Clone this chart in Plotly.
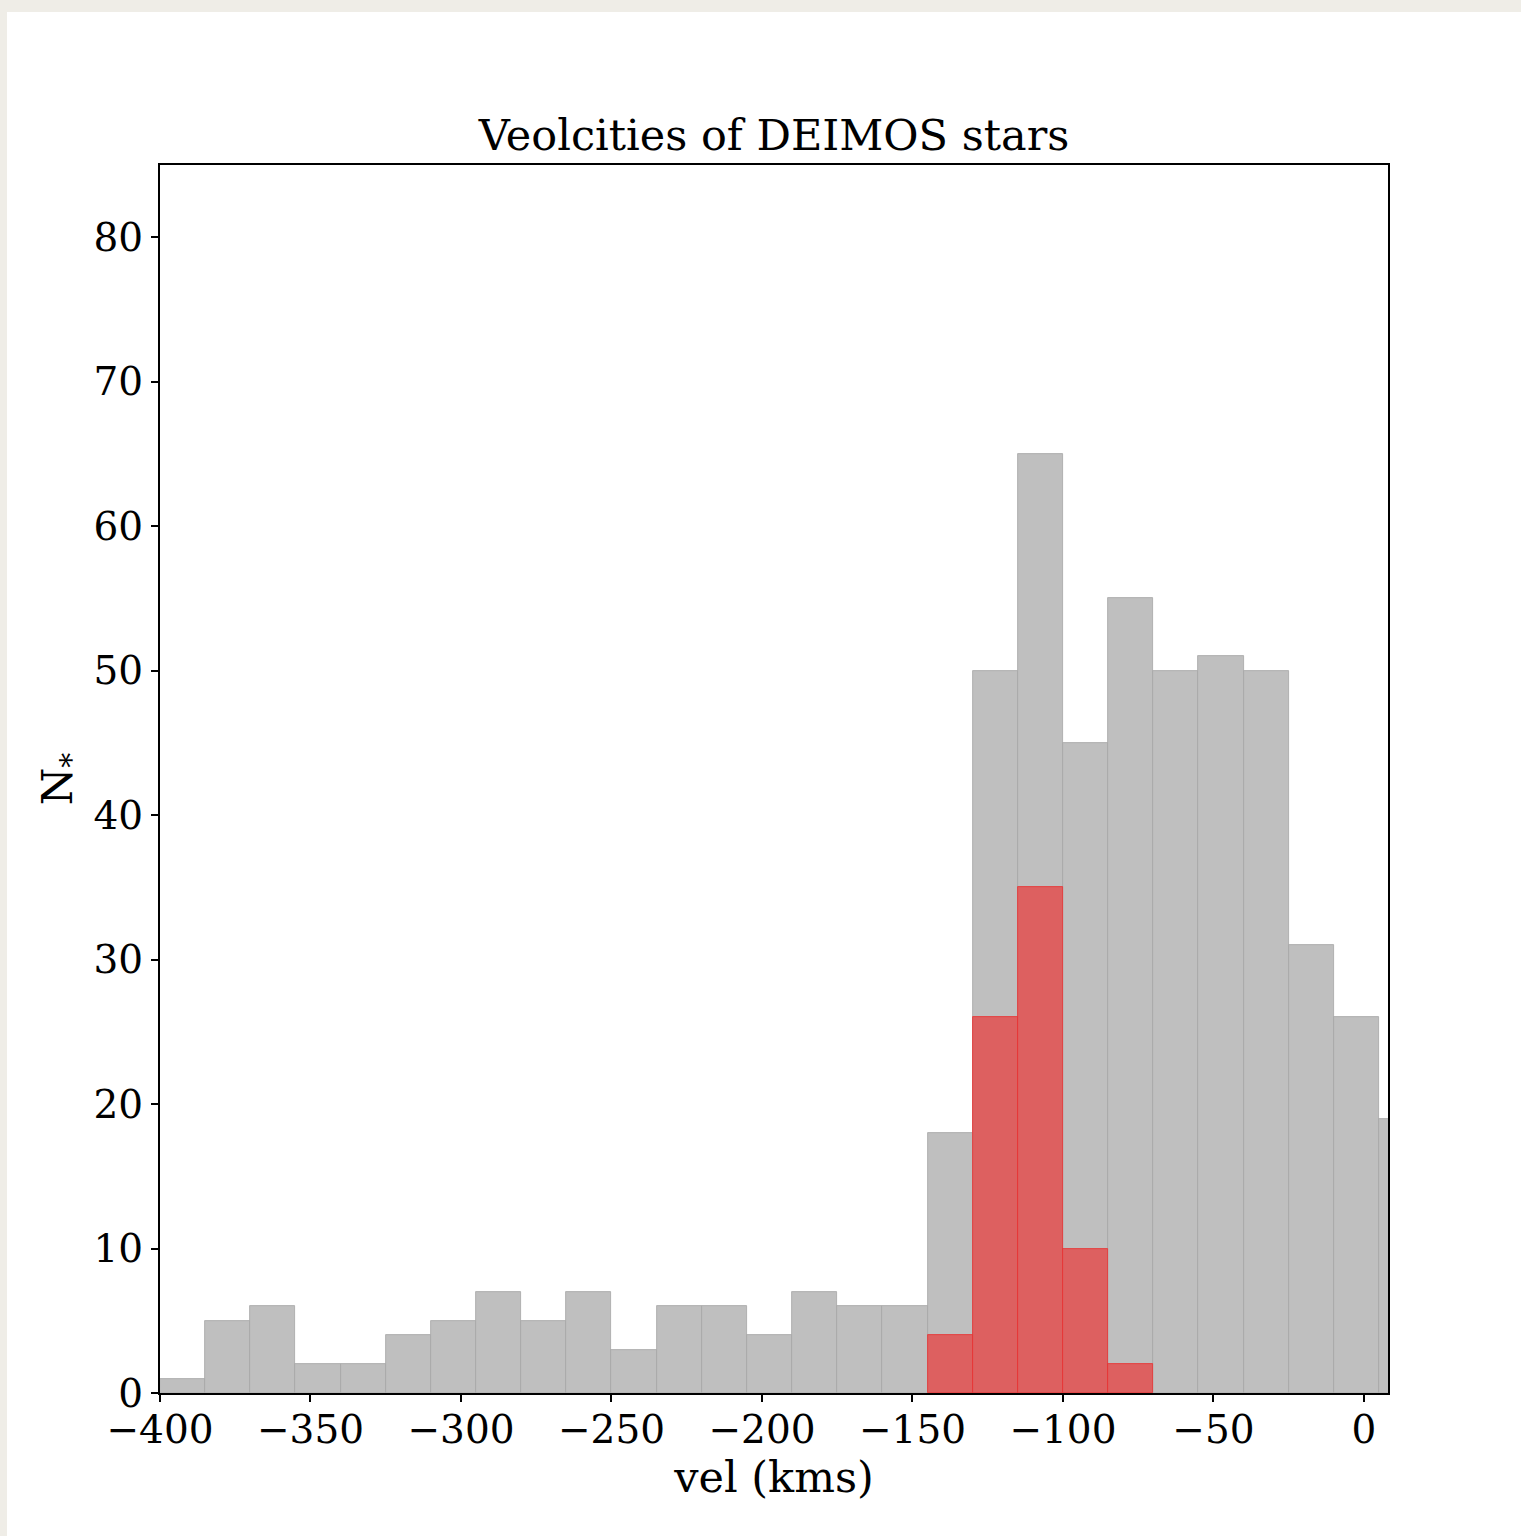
import plotly.graph_objects as go

bin_start = -400
bin_width = 15
all_counts = [1, 5, 6, 2, 2, 4, 5, 7, 5, 7, 3, 6, 6, 4, 7, 6, 6, 18, 50, 65, 45, 55, 50, 51, 50, 31, 26, 19]
member_start = -145
member_counts = [4, 26, 35, 10, 2]

x_ticks = [-400, -350, -300, -250, -200, -150, -100, -50, 0]
y_ticks = [0, 10, 20, 30, 40, 50, 60, 70, 80]

all_x = [bin_start + bin_width * (i + 0.5) for i in range(len(all_counts))]
mem_x = [member_start + bin_width * (i + 0.5) for i in range(len(member_counts))]

FONT = "DejaVu Serif"

fig = go.Figure()
fig.add_trace(go.Bar(x=all_x, y=all_counts, width=bin_width,
                     marker=dict(color="#bfbfbf", line=dict(color="#a6a6a6", width=0.8)),
                     showlegend=False))
fig.add_trace(go.Bar(x=mem_x, y=member_counts, width=bin_width,
                     marker=dict(color="#dd6060", line=dict(color="#e83030", width=0.8)),
                     showlegend=False))

W, H = 1521, 1536
L, R, T, B = 160, 133, 165, 143
pw = W - L - R
ph = H - T - B

# beige page frame with white figure area
fig.add_shape(type="rect", xref="paper", yref="paper", layer="below",
              x0=(7 - L) / pw, x1=(W + 5 - L) / pw,
              y0=(H - B - (H + 5)) / ph, y1=(H - B - 12) / ph,
              fillcolor="white", line=dict(width=0))

fig.update_layout(
    width=W, height=H,
    margin=dict(l=L, r=R, t=T, b=B),
    paper_bgcolor="#efede7",
    plot_bgcolor="white",
    barmode="overlay",
    bargap=0,
    font=dict(family=FONT, size=39, color="black"),
    title=dict(text="Veolcities of DEIMOS stars", x=0.5, xref="paper",
               y=1 - 135 / H, yref="container", xanchor="center", yanchor="middle",
               font=dict(family=FONT, size=43, color="black")),
    xaxis=dict(range=[-400, 8], tickvals=x_ticks, ticks="outside", ticklen=7, tickwidth=2,
               tickcolor="black", showline=True, linecolor="black", linewidth=2, mirror=True,
               showgrid=False, zeroline=False, ticklabelstandoff=-6,
               tickfont=dict(family=FONT, size=39),
               title=dict(text="vel (kms)", standoff=6, font=dict(family=FONT, size=43))),
    yaxis=dict(range=[0, 85], tickvals=y_ticks, ticks="outside", ticklen=7, tickwidth=2,
               tickcolor="black", showline=True, linecolor="black", linewidth=2, mirror=True,
               showgrid=False, zeroline=False,
               tickfont=dict(family=FONT, size=39),
               title=dict(text="N<sub>*</sub>", standoff=8, font=dict(family=FONT, size=43))),
)

fig.write_html("out.html")
